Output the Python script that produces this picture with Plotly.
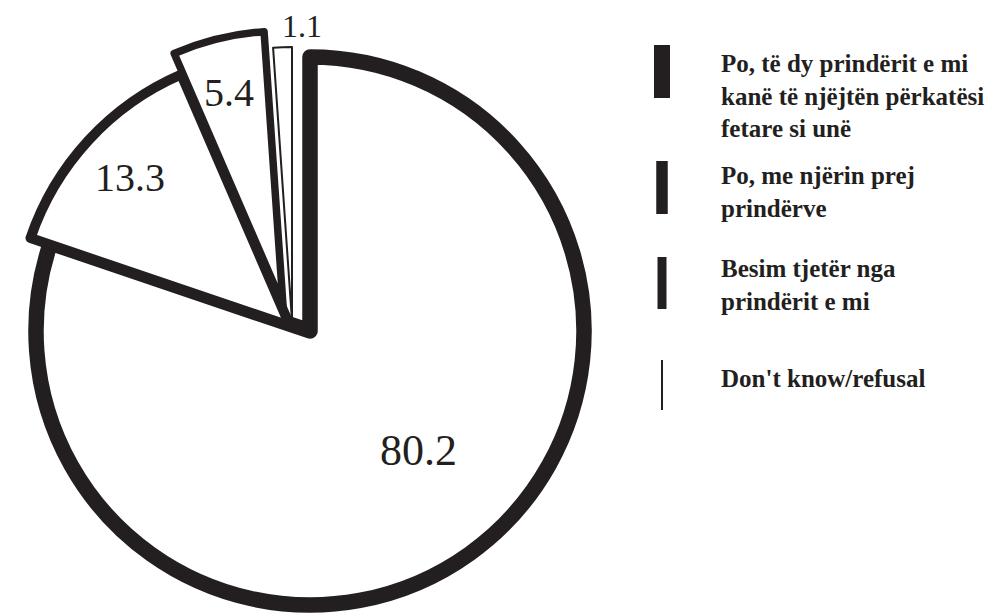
import plotly.graph_objects as go

# share of respondents (%)
labels = [
    "Po, të dy prindërit e mi<br>kanë të njëjtën përkatësi<br>fetare si unë",
    "Po, me njërin prej<br>prindërve",
    "Besim tjetër nga<br>prindërit e mi",
    "Don't know/refusal",
]
values = [80.2, 13.3, 5.4, 1.1]

# styles (page pixels of the reference)
ink = "#231f20"
slice_lines = [15.5, 10, 7.5, 2]
apex = [(310, 331), (290, 326), (283, 305), (292, 321)]  # exploded slices
R = 274
label_pos = [(418, 450), (130, 177), (229, 92), (302, 26)]
label_size = [44, 40, 40, 32]
legend_bars = [16, 11.5, 9, 2]
legend_rows = [(45, 98, 96), (161, 214, 192), (257, 309, 285), (360, 410, 378)]

W, H = 1005, 614
OFF = 8  # page body margin


def px_x(v):
    return (v - OFF) / W


def px_y(v):
    return 1 - (v - OFF) / H


def dom(cx, cy, half):
    return dict(x=[px_x(cx - half), px_x(cx + half)],
                y=[px_y(cy + half), px_y(cy - half)])


clear = "rgba(0,0,0,0)"
n = len(values)

fig = go.Figure()

# one pie per slice so every slice can be pushed out on its own
for i in range(n):
    show = [j == i for j in range(n)]
    fig.add_trace(go.Pie(
        labels=labels, values=values, sort=False, direction="clockwise", rotation=0,
        domain=dom(apex[i][0], apex[i][1], R), automargin=False,
        marker=dict(colors=["white" if s else clear for s in show],
                    line=dict(color=ink, width=[w if s else 0 for w, s in zip(slice_lines, show)])),
        textinfo="none", hoverinfo="label+value", showlegend=False,
    ))

for v, (x, y), fs in zip(values, label_pos, label_size):
    fig.add_annotation(text=f"{v}", xref="paper", yref="paper",
                       x=px_x(x), y=px_y(y), xanchor="center", yanchor="middle",
                       showarrow=False,
                       font=dict(family="Liberation Serif", size=fs, color=ink))

# hand-made legend: bar thickness follows the slice outline
for lab, bw, (top, bot, mid) in zip(labels, legend_bars, legend_rows):
    fig.add_shape(type="line", xref="paper", yref="paper",
                  x0=px_x(662), x1=px_x(662), y0=px_y(top), y1=px_y(bot),
                  line=dict(color=ink, width=bw))
    fig.add_annotation(text=f"<b>{lab}</b>", xref="paper", yref="paper",
                       x=px_x(719), y=px_y(mid), xanchor="left", yanchor="middle",
                       align="left", showarrow=False,
                       font=dict(family="Liberation Serif", size=25, color=ink))

fig.update_layout(width=W, height=H,
                  margin=dict(l=0, r=0, t=0, b=0, autoexpand=False),
                  paper_bgcolor="white", plot_bgcolor="white")
fig.write_html("out.html")
